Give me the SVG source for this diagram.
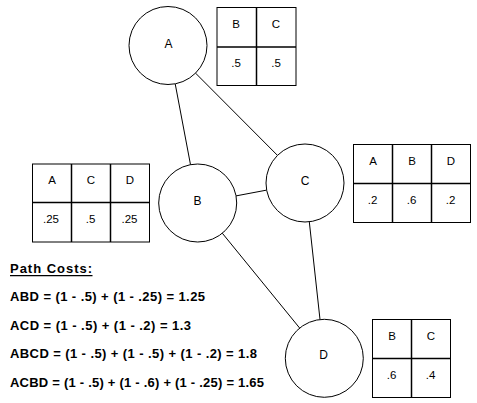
<svg xmlns="http://www.w3.org/2000/svg" width="477" height="403" viewBox="0 0 477 403">
<style>
.bg{fill:#fff}
.node circle{fill:#fff;stroke:#000;stroke-width:1}
.lbl{font-family:"Liberation Sans",Arial,sans-serif;font-size:12px;fill:#000;text-anchor:middle}
.tbl rect{fill:#fff;stroke:#000;stroke-width:1}
.tbl line{stroke:#000;stroke-width:1.5}
.cell{font-family:"Liberation Sans",Arial,sans-serif;font-size:11.5px;fill:#000;text-anchor:middle}
.edges line{stroke:#000;stroke-width:1}
.cost{font-family:"Liberation Sans",Arial,sans-serif;font-size:13px;font-weight:bold;fill:#000}
.uline{stroke:#000;stroke-width:1.3}
</style>
<rect class="bg" x="0" y="0" width="477" height="403"/>
<g id="connectors" class="edges">
<line x1="175.2" y1="83.8" x2="190.5" y2="164.7"/>
<line x1="195.5" y1="73.1" x2="277.5" y2="155.4"/>
<line x1="236.0" y1="195.9" x2="266.7" y2="190.1"/>
<line x1="309.3" y1="221.8" x2="320.0" y2="319.5"/>
<line x1="222.3" y1="233.2" x2="299.7" y2="328.1"/>
</g>
<g id="node-A" class="node"><circle cx="168" cy="45.5" r="39"/><text class="lbl" x="168.5" y="47.5">A</text></g>
<g id="node-B" class="node"><circle cx="197.7" cy="203" r="39"/><text class="lbl" x="197.5" y="204.5">B</text></g>
<g id="node-C" class="node"><circle cx="305" cy="183" r="39"/><text class="lbl" x="305" y="184.5">C</text></g>
<g id="node-D" class="node"><circle cx="324.3" cy="358.3" r="39"/><text class="lbl" x="323.5" y="359">D</text></g>
<g id="table-A" class="tbl">
<rect x="217" y="7.5" width="79" height="78"/>
<line x1="217" y1="47" x2="296" y2="47"/>
<line x1="256.5" y1="7.5" x2="256.5" y2="85.5"/>
<text class="cell" x="236" y="27.5">B</text><text class="cell" x="276" y="27.5">C</text>
<text class="cell" x="236" y="67">.5</text><text class="cell" x="276" y="67">.5</text>
</g>
<g id="table-B" class="tbl">
<rect x="32.5" y="164" width="117" height="78"/>
<line x1="32.5" y1="202.5" x2="149.5" y2="202.5"/>
<line x1="71.5" y1="164" x2="71.5" y2="242"/>
<line x1="110.5" y1="164" x2="110.5" y2="242"/>
<text class="cell" x="52" y="184">A</text><text class="cell" x="91" y="184">C</text><text class="cell" x="130" y="184">D</text>
<text class="cell" x="51" y="223">.25</text><text class="cell" x="90.5" y="223">.5</text><text class="cell" x="129.5" y="223">.25</text>
</g>
<g id="table-C" class="tbl">
<rect x="353.5" y="144.5" width="117" height="78"/>
<line x1="353.5" y1="183.5" x2="470.5" y2="183.5"/>
<line x1="392.5" y1="144.5" x2="392.5" y2="222.5"/>
<line x1="431.5" y1="144.5" x2="431.5" y2="222.5"/>
<text class="cell" x="373" y="165">A</text><text class="cell" x="412" y="165">B</text><text class="cell" x="451" y="165">D</text>
<text class="cell" x="372.5" y="204">.2</text><text class="cell" x="411.5" y="204">.6</text><text class="cell" x="450.5" y="204">.2</text>
</g>
<g id="table-D" class="tbl">
<rect x="372.5" y="319.5" width="78" height="78"/>
<line x1="372.5" y1="358.5" x2="450.5" y2="358.5"/>
<line x1="411.5" y1="319.5" x2="411.5" y2="397.5"/>
<text class="cell" x="392" y="339.5">B</text><text class="cell" x="431" y="339.5">C</text>
<text class="cell" x="391.5" y="379">.6</text><text class="cell" x="430.5" y="379">.4</text>
</g>
<g id="path-costs">
<text class="cost" x="10" y="273" textLength="82" lengthAdjust="spacing">Path Costs:</text>
<line class="uline" x1="10" y1="275.7" x2="92.5" y2="275.7"/>
<text class="cost" x="10" y="301" textLength="195" lengthAdjust="spacing">ABD = (1 - .5) + (1 - .25) = 1.25</text>
<text class="cost" x="10" y="329.5" textLength="181" lengthAdjust="spacing">ACD = (1 - .5) + (1 - .2) = 1.3</text>
<text class="cost" x="10" y="358" textLength="247" lengthAdjust="spacing">ABCD = (1 - .5) + (1 - .5) + (1 - .2) = 1.8</text>
<text class="cost" x="10" y="386.5" textLength="254" lengthAdjust="spacing">ACBD = (1 - .5) + (1 - .6) + (1 - .25) = 1.65</text>
</g>
</svg>
